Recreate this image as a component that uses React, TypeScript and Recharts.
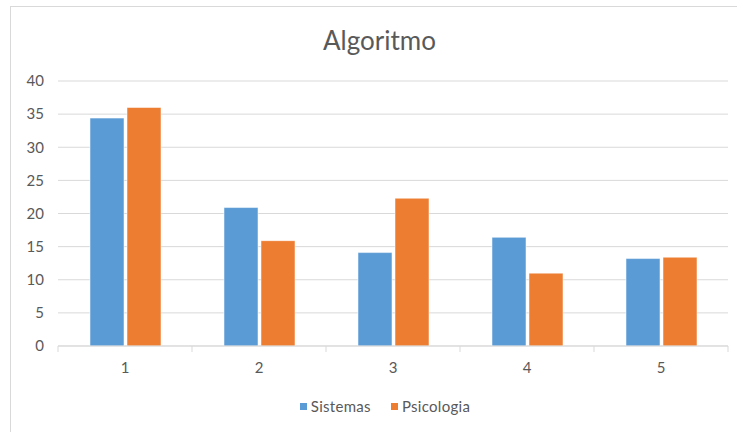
import React from 'react'
import { BarChart, Bar, XAxis, YAxis, CartesianGrid, Legend } from 'recharts'

const categories = ['1', '2', '3', '4', '5']
const sistemas = [34.4, 20.9, 14.1, 16.4, 13.2]
const psicologia = [36.0, 15.9, 22.3, 11.0, 13.4]
const yTicks = [0, 5, 10, 15, 20, 25, 30, 35, 40]
const seriesOrder = ['Sistemas', 'Psicologia']

const data = categories.map((cat, i) => ({
  cat,
  Sistemas: sistemas[i],
  Psicologia: psicologia[i],
}))

const FONT = 'Lato, "Open Sans", sans-serif'
const TEXT = '#595959'
const GRID = '#D9D9D9'

const W = 737
const H = 432
const MARGIN = { top: 81, right: 9, left: 8, bottom: 20 }
const Y_WIDTH = 50
const BAND = (W - MARGIN.left - MARGIN.right - Y_WIDTH) / categories.length
const TICK_SIZE = 6
const TICK_MARGIN = 10

// keeps the series order instead of the alphabetical default
const renderLegend = (props: any) => {
  const items = [...(props.payload || [])].sort(
    (a: any, b: any) => seriesOrder.indexOf(a.value) - seriesOrder.indexOf(b.value)
  )
  return (
    <div style={{ display: 'flex', justifyContent: 'center', gap: 20, fontSize: 15, color: TEXT, fontFamily: FONT }}>
      {items.map((it: any) => (
        <span key={it.value} style={{ display: 'inline-flex', alignItems: 'center', letterSpacing: 0.3 }}>
          <span style={{ width: 7, height: 7, background: it.color, marginRight: 4 }} />
          {it.value}
        </span>
      ))}
    </div>
  )
}

// category label plus Excel-style tick marks on the band edges
const CategoryTick = (p: any) => {
  const axisY = p.y - TICK_SIZE - TICK_MARGIN
  const last = p.index === categories.length - 1
  return (
    <g>
      <line x1={p.x - BAND / 2} x2={p.x - BAND / 2} y1={axisY} y2={axisY + TICK_SIZE} stroke={GRID} />
      {last && <line x1={p.x + BAND / 2} x2={p.x + BAND / 2} y1={axisY} y2={axisY + TICK_SIZE} stroke={GRID} />}
      <text x={p.x} y={p.y} dy="0.71em" textAnchor="middle" fontSize={15} fill={TEXT} fontFamily={FONT}>
        {p.payload.value}
      </text>
    </g>
  )
}

export default function App() {
  return (
    <div style={{ position: 'absolute', left: 0, top: 0, width: W, height: H, background: '#fff', overflow: 'hidden', fontFamily: FONT }}>
      <div style={{ position: 'absolute', left: 10, top: 6, width: 760, height: 460, border: `1px solid ${GRID}` }} />
      <div style={{ position: 'absolute', left: 0, top: 24, width: 759, textAlign: 'center', fontSize: 26, color: TEXT }}>
        Algoritmo
      </div>
      <div style={{ position: 'absolute', left: 0, top: 0 }}>
        <BarChart
          width={W}
          height={H}
          data={data}
          margin={MARGIN}
          barGap={3}
          barSize={34}
        >
          <CartesianGrid vertical={false} stroke={GRID} strokeWidth={1} />
          <XAxis
            dataKey="cat"
            interval={0}
            axisLine={{ stroke: GRID }}
            tickLine={false}
            tickSize={TICK_SIZE}
            tickMargin={TICK_MARGIN}
            height={30}
            tick={CategoryTick}
          />
          <YAxis
            domain={[0, 40]}
            ticks={yTicks}
            width={Y_WIDTH}
            axisLine={false}
            tickLine={false}
            tickMargin={8}
            tick={{ fontSize: 15, fill: TEXT, fontFamily: FONT }}
          />
          <Legend
            verticalAlign="bottom"
            height={36}
            content={renderLegend}
            wrapperStyle={{ top: 397, left: 0, width: 770 }}
          />
          <Bar dataKey="Sistemas" fill="#5B9BD5" stroke="#fff" strokeWidth={0.5} isAnimationActive={false} />
          <Bar dataKey="Psicologia" fill="#ED7D31" stroke="#fff" strokeWidth={0.5} isAnimationActive={false} />
        </BarChart>
      </div>
    </div>
  )
}
